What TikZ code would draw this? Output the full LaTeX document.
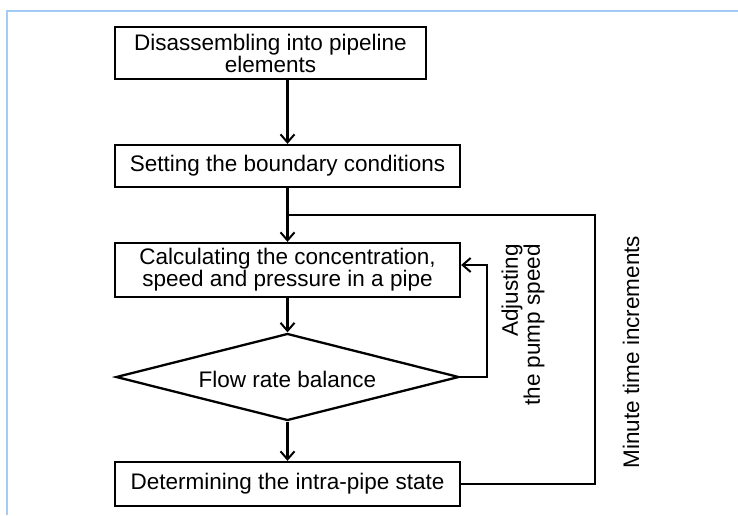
\documentclass[tikz,border=0pt]{standalone}
\usepackage{fontspec}
\setmainfont{Liberation Sans}
\usetikzlibrary{arrows.meta,shapes.geometric}
\definecolor{frameblue}{HTML}{A3CBF5}
\begin{document}
\begin{tikzpicture}[x=1pt,y=-1pt,
  every node/.style={font=\fontsize{22.5}{22}\selectfont},
  stepbox/.style={draw,line width=2.3pt,inner sep=0pt,align=center},
  conn/.style={line width=2.3pt},
  arr/.style={conn,-{Straight Barb[length=8pt,width=14pt,line width=2pt]}}]
\useasboundingbox (0,0) rectangle (738,515);
\draw[frameblue,line width=2.5pt] (7,515) -- (7,11) -- (738,11);
\node[stepbox,minimum width=311pt,minimum height=52pt] (b1) at (270.5,53) {Disassembling into pipeline\\elements};
\node[stepbox,minimum width=345pt,minimum height=42pt] (b2) at (287.5,166) {Setting the boundary conditions};
\node[stepbox,minimum width=345pt,minimum height=54pt] (b3) at (287.5,270) {Calculating the concentration,\\speed and pressure in a pipe};
\node[draw,line width=2.3pt,diamond,aspect=3.94,inner sep=0pt,minimum width=343pt,minimum height=87pt] (d) at (287.5,377) {};
\node (dt) at (287.5,379) {Flow rate balance};
\node[stepbox,minimum width=345pt,minimum height=44pt] (b5) at (287.5,484) {Determining the intra-pipe state};
\node[rotate=90,align=right] (adj) at (523,325) {Adjusting\\the pump speed};
\node[rotate=90] (mti) at (631,352) {Minute time increments};
\coordinate (j) at (287.5,215);
\coordinate (r1) at (595,484);
\coordinate (r2) at (595,215);
\coordinate (a1) at (487,377);
\coordinate (a2) at (487,265);
\coordinate (b3e) at ([yshift=5pt]b3.east);
\draw[arr] (b1.south -| b2.north) -- (b2.north);
\draw[arr] (b2.south) -- (b3.north);
\draw[arr] (b3.south) -- (d.north);
\draw[arr] (d.south) -- (b5.north);
\draw[conn] (b5.east) -- (r1) -- (r2) -- (j);
\draw[arr] (d.east) -- (a1) -- (a2) -- (b3e);
\end{tikzpicture}
\end{document}
